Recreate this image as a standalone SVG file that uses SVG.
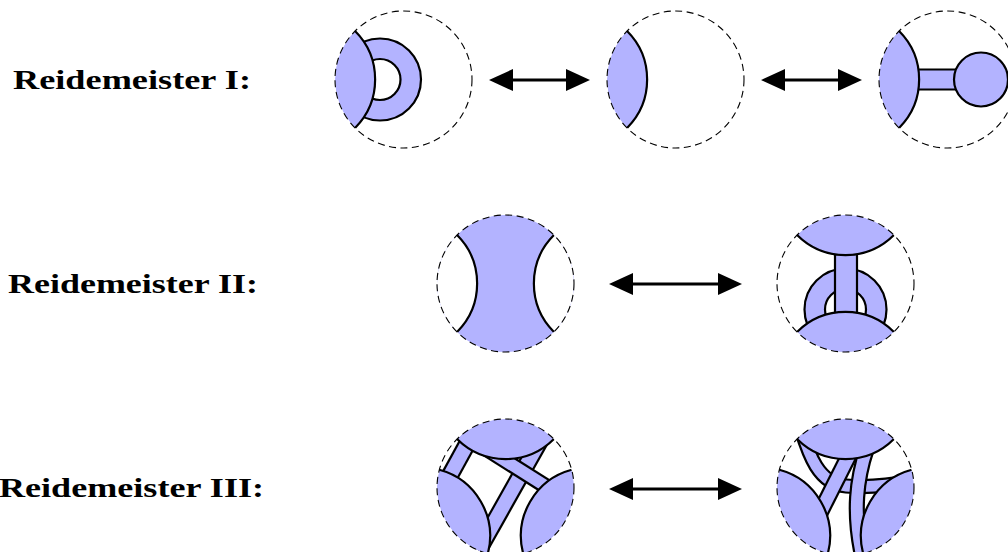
<svg xmlns="http://www.w3.org/2000/svg" xmlns:xlink="http://www.w3.org/1999/xlink" width="1008" height="552" viewBox="0 0 1008 552">
<style>
.lbl{font-family:"Liberation Serif","DejaVu Serif",serif;font-weight:bold;font-size:28px;fill:#000}
.dash{fill:none;stroke:#000;stroke-width:1.1;stroke-dasharray:7 4.5}
.edge{fill:none;stroke:#000;stroke-width:2.2}
.bo{fill:none;stroke:#000}
.bi{fill:none;stroke:#b3b3ff}
.arr{stroke:#000;stroke-width:3;fill:none;marker-start:url(#ah);marker-end:url(#ah)}
</style>
<defs>
<clipPath id="disk"><circle r="68.5"/></clipPath>
<g id="cap"><path d="M-48.44,-48.44 A68.5,68.5 0 0 0 -48.44,48.44 A68.5,68.5 0 0 0 -48.44,-48.44Z" stroke="none"/><path class="edge" d="M-48.44,48.44 A68.5,68.5 0 0 0 -48.44,-48.44"/></g>
<marker id="ah" viewBox="0 0 24 22" refX="19" refY="11" markerWidth="24" markerHeight="22" markerUnits="userSpaceOnUse" orient="auto-start-reverse"><path d="M0,0L24,11L0,22Z" fill="#000"/></marker>
</defs>
<rect width="1008" height="552" fill="#fff"/>

<g id="labels">
<text class="lbl" x="132" y="89" text-anchor="middle" textLength="238" lengthAdjust="spacingAndGlyphs">Reidemeister I:</text>
<text class="lbl" x="133" y="293" text-anchor="middle" textLength="250" lengthAdjust="spacingAndGlyphs">Reidemeister II:</text>
<text class="lbl" x="131.5" y="497" text-anchor="middle" textLength="265" lengthAdjust="spacingAndGlyphs">Reidemeister III:</text>
</g>

<g id="connectors">
<path class="arr" d="M494,80H585"/>
<path class="arr" d="M766,80H857"/>
<path class="arr" d="M614,284H737"/>
<path class="arr" d="M614,489H737"/>
</g>

<g id="r1-left" transform="translate(403.5,79.5)">
 <g clip-path="url(#disk)">
  <circle cx="-23.5" cy="0" r="30.75" class="bo" stroke-width="22.7"/>
  <circle cx="-23.5" cy="0" r="30.75" class="bi" stroke-width="18.3"/>
  <use xlink:href="#cap" href="#cap" fill="#b3b3ff"/>
 </g>
 <circle r="68.5" class="dash"/>
</g>

<g id="r1-mid" transform="translate(675.5,79.5)">
 <g clip-path="url(#disk)">
  <use xlink:href="#cap" href="#cap" fill="#b3b3ff"/>
 </g>
 <circle r="68.5" class="dash"/>
</g>

<g id="r1-right" transform="translate(947.5,79.5)">
 <g clip-path="url(#disk)">
  <path d="M-45,0H34" class="bo" stroke-width="22.2"/>
  <path d="M-45,0H34" class="bi" stroke-width="17.8"/>
  <circle cx="33.5" cy="0" r="27" fill="#b3b3ff" stroke="#000" stroke-width="2.2"/>
  <use xlink:href="#cap" href="#cap" fill="#b3b3ff"/>
 </g>
 <circle r="68.5" class="dash"/>
</g>

<g id="r2-left" transform="translate(505.5,283.5)">
 <g clip-path="url(#disk)">
  <circle r="69" fill="#b3b3ff"/>
  <use xlink:href="#cap" href="#cap" fill="#fff"/>
  <use xlink:href="#cap" href="#cap" fill="#fff" transform="rotate(180)"/>
 </g>
 <circle r="68.5" class="dash"/>
</g>

<g id="r2-right" transform="translate(845.5,283.5)">
 <g clip-path="url(#disk)">
  <circle cx="0" cy="26" r="30.75" class="bo" stroke-width="22.7"/>
  <circle cx="0" cy="26" r="30.75" class="bi" stroke-width="18.3"/>
  <path d="M0.5,-45V40" class="bo" stroke-width="24.2"/>
  <path d="M0.5,-45V40" class="bi" stroke-width="19.8"/>
  <use xlink:href="#cap" href="#cap" fill="#b3b3ff" transform="rotate(90)"/>
  <use xlink:href="#cap" href="#cap" fill="#b3b3ff" transform="rotate(-90)"/>
 </g>
 <circle r="68.5" class="dash"/>
</g>

<g id="r3-left" transform="translate(505.5,487.5)">
 <g clip-path="url(#disk)">
  <path d="M-33.1,-53.1L-61.2,-1.8" class="bo" stroke-width="18.2"/>
  <path d="M-33.1,-53.1L-61.2,-1.8" class="bi" stroke-width="13.8"/>
  <path d="M-29,66.2L35.7,-48.9" class="bo" stroke-width="18.2"/>
  <path d="M-29,66.2L35.7,-48.9" class="bi" stroke-width="13.8"/>
  <path d="M-24.3,-42L54.7,7.8" class="bo" stroke-width="16.2"/>
  <path d="M-24.3,-42L54.7,7.8" class="bi" stroke-width="11.8"/>
  <use xlink:href="#cap" href="#cap" fill="#b3b3ff" transform="rotate(90)"/>
  <use xlink:href="#cap" href="#cap" fill="#b3b3ff" transform="rotate(-30)"/>
  <use xlink:href="#cap" href="#cap" fill="#b3b3ff" transform="rotate(-150)"/>
 </g>
 <circle r="68.5" class="dash"/>
</g>

<g id="r3-right" transform="translate(845.5,487.5)">
 <g clip-path="url(#disk)">
  <path d="M-44.5,-58.5C-37,-34.5 -27.5,-3.5 0.5,-1.5C20.5,0 42.5,-1.5 66.5,-6.5" class="bo" stroke-width="15.2"/>
  <path d="M-44.5,-58.5C-37,-34.5 -27.5,-3.5 0.5,-1.5C20.5,0 42.5,-1.5 66.5,-6.5" class="bi" stroke-width="10.8"/>
  <path d="M-25.5,25.4L5.1,-35.4" class="bo" stroke-width="17.2"/>
  <path d="M-25.5,25.4L5.1,-35.4" class="bi" stroke-width="12.8"/>
  <path d="M21.5,-39.5C11.5,-9.5 6.5,24.5 17.5,72.5" class="bo" stroke-width="16.2"/>
  <path d="M21.5,-39.5C11.5,-9.5 6.5,24.5 17.5,72.5" class="bi" stroke-width="11.8"/>
  <use xlink:href="#cap" href="#cap" fill="#b3b3ff" transform="rotate(90)"/>
  <use xlink:href="#cap" href="#cap" fill="#b3b3ff" transform="rotate(-30)"/>
  <use xlink:href="#cap" href="#cap" fill="#b3b3ff" transform="rotate(-150)"/>
 </g>
 <circle r="68.5" class="dash"/>
</g>
</svg>
